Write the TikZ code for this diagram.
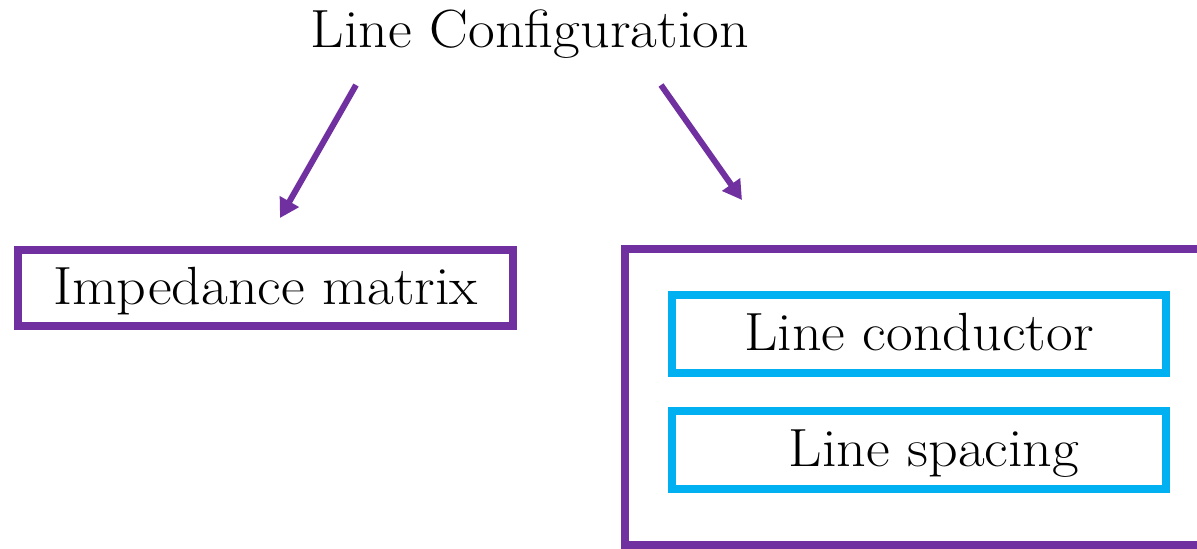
\documentclass[tikz,border=0pt]{standalone}
\usepackage{fontspec}
\setmainfont{Latin Modern Roman}[FakeStretch=1.08]
\usetikzlibrary{arrows.meta}
\definecolor{cfgpurple}{HTML}{7030A0}
\definecolor{cfgcyan}{HTML}{00B0F0}
\begin{document}
\begin{tikzpicture}[
            x=0.01cm,y=-0.01cm,
            every node/.style={black,font=\fontsize{15.3}{17}\selectfont},
            outerbox/.style={draw=cfgpurple,line width=0.08cm},
            innerbox/.style={draw=cfgcyan,line width=0.08cm,minimum width=4.94cm,minimum height=0.78cm},
            boxtext/.style={text height=0.38cm,text depth=0.06cm},
            link/.style={cfgpurple,line width=0.06cm,-{Triangle[length=0.19cm,width=0.21cm]}}
        ]
            \useasboundingbox (0,0) rectangle (1197,548);
            \node[anchor=base] (title) at (530,47) {Line Configuration};

            \node[outerbox,boxtext,minimum width=4.95cm,minimum height=0.76cm] (imp) at (265.5,288) {Impedance matrix};
            \node[outerbox,minimum width=5.76cm,minimum height=2.955cm] (lines) at (913,397) {};
            \node[innerbox,boxtext] (cond) at (919,334) {Line conductor};
            \node[innerbox,boxtext] (spac) at (919,450) {\hspace{0.3cm}Line spacing};

            \coordinate (impfrom) at (356,85);
            \coordinate (impto) at (280,218);
            \coordinate (linesfrom) at (661,85);
            \coordinate (linesto) at (742,200);
            \draw [link] (impfrom) -- (impto);
            \draw [link] (linesfrom) -- (linesto);
        \end{tikzpicture}
\end{document}
